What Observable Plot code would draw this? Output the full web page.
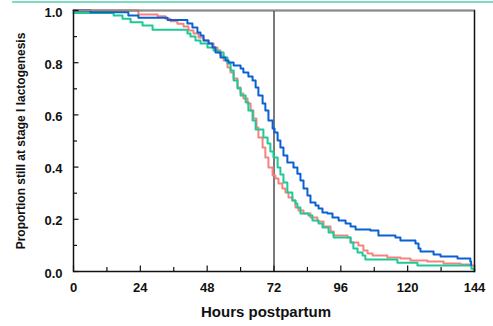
<!DOCTYPE html>
<html>
<head>
<meta charset="utf-8">
<script src="https://cdn.jsdelivr.net/npm/d3@7"></script>
<script src="https://cdn.jsdelivr.net/npm/@observablehq/plot@0.6"></script>
<style>
  html, body { margin: 0; padding: 0; background: #fff; }
  #wrap { position: relative; width: 493px; height: 326px; }
  #topline { position: absolute; top: 1px; left: 12px; right: 0; height: 2px; background: #7fdcc4; }
</style>
</head>
<body>
<div id="wrap"><div id="topline"></div></div>
<script>
// Series: blue
const hoursBlue = [0, 6.1, 19.7, 23.3, 33.8, 40.9, 42.7, 44.5, 45.6, 46.7, 48.5, 49.9, 51.0, 52.8, 54.6, 55.7, 57.5, 60.0, 61.0, 62.8, 64.3, 65.4, 66.4, 67.9, 68.9, 70.0, 71.5, 72.2, 73.3, 74.3, 75.4, 76.8, 79.0, 80.4, 81.5, 82.6, 84.0, 85.1, 86.9, 88.0, 89.4, 91.2, 93.0, 95.2, 97.7, 99.5, 101.3, 106.6, 109.5, 115.6, 117.4, 122.8, 123.9, 124.6, 129.3, 131.8, 137.9, 142.5, 142.8];
const propBlue = [1.0, 0.993, 0.981, 0.972, 0.964, 0.950, 0.935, 0.916, 0.904, 0.885, 0.874, 0.858, 0.839, 0.820, 0.808, 0.801, 0.789, 0.778, 0.762, 0.747, 0.732, 0.705, 0.674, 0.644, 0.617, 0.579, 0.548, 0.533, 0.502, 0.475, 0.444, 0.418, 0.398, 0.375, 0.349, 0.318, 0.291, 0.264, 0.253, 0.241, 0.226, 0.222, 0.207, 0.195, 0.184, 0.172, 0.161, 0.157, 0.138, 0.130, 0.119, 0.107, 0.088, 0.077, 0.065, 0.057, 0.050, 0.038, 0.025];
// Series: red
const hoursRed = [0, 23.3, 30.2, 33.0, 34.8, 37.3, 39.5, 41.3, 43.1, 44.9, 46.7, 48.5, 50.3, 51.7, 52.8, 53.9, 55.3, 56.4, 57.5, 58.9, 60.0, 61.0, 62.5, 63.6, 64.6, 65.7, 66.4, 67.9, 68.9, 70.0, 71.5, 72.5, 73.6, 75.0, 76.1, 77.2, 78.6, 79.7, 80.8, 82.6, 85.1, 87.6, 89.8, 92.3, 93.4, 98.4, 99.5, 102.3, 104.1, 105.6, 107.4, 112.7, 117.4, 121.0, 127.1, 132.9, 139.0, 142.5, 144];
const propRed = [1.0, 0.985, 0.978, 0.968, 0.959, 0.949, 0.939, 0.923, 0.912, 0.897, 0.885, 0.874, 0.858, 0.847, 0.828, 0.808, 0.782, 0.762, 0.739, 0.705, 0.682, 0.663, 0.644, 0.617, 0.586, 0.552, 0.513, 0.475, 0.437, 0.398, 0.368, 0.356, 0.337, 0.318, 0.303, 0.284, 0.272, 0.245, 0.234, 0.222, 0.207, 0.192, 0.172, 0.153, 0.138, 0.130, 0.111, 0.100, 0.080, 0.069, 0.061, 0.054, 0.050, 0.042, 0.038, 0.031, 0.027, 0.023, 0.020];
// Series: green
const hoursGreen = [0, 14.4, 17.6, 20.5, 24.8, 28.4, 40.9, 42.0, 43.8, 45.6, 48.1, 50.3, 52.1, 53.9, 55.3, 56.4, 57.5, 58.9, 60.0, 61.8, 62.8, 64.3, 65.4, 68.2, 69.7, 70.7, 71.8, 73.3, 74.3, 75.4, 76.8, 78.6, 79.7, 80.4, 81.5, 84.4, 85.8, 88.0, 89.4, 91.6, 93.4, 99.5, 100.5, 102.0, 103.8, 104.8, 116.3, 123.5, 142.9, 144];
const propGreen = [0.990, 0.981, 0.968, 0.955, 0.943, 0.926, 0.912, 0.900, 0.885, 0.874, 0.858, 0.847, 0.839, 0.820, 0.797, 0.770, 0.732, 0.701, 0.674, 0.648, 0.617, 0.579, 0.544, 0.513, 0.490, 0.460, 0.437, 0.398, 0.372, 0.341, 0.303, 0.272, 0.261, 0.245, 0.222, 0.215, 0.195, 0.184, 0.169, 0.149, 0.130, 0.111, 0.088, 0.073, 0.061, 0.046, 0.034, 0.023, 0.011, 0.0];

// Ticks and labels
const xMajor = [0, 24, 48, 72, 96, 120, 144];
const xMinor = [12, 36, 60, 84, 108, 132];
const yMajor = [0, 0.2, 0.4, 0.6, 0.8, 1.0];
const yMinor = [0.1, 0.3, 0.5, 0.7, 0.9];
const refLine = [72];
const xLabel = ["Hours postpartum"];
const yLabel = ["Proportion still at stage I lactogenesis"];

const zip = (xs, ys) => xs.map((x, i) => ({x, y: ys[i]}));
const blue = zip(hoursBlue, propBlue);
const red = zip(hoursRed, propRed);
const green = zip(hoursGreen, propGreen);

const W = 493, H = 326, mL = 73, mR = 19, mT = 10, mB = 55;
const pw = W - mL - mR, ph = H - mT - mB;

const chart = Plot.plot({
  width: W, height: H,
  marginLeft: mL, marginRight: mR, marginTop: mT, marginBottom: mB,
  style: {fontFamily: "'Liberation Sans', Arial, sans-serif", background: "transparent", overflow: "visible"},
  x: {domain: [0, 144]},
  y: {domain: [0, 1]},
  marks: [
    Plot.ruleX(refLine, {x: d => d, stroke: "#7a7a7a", strokeWidth: 2}),
    Plot.line(red, {x: "x", y: "y", curve: "step-after", stroke: "#f5837e", strokeWidth: 2}),
    Plot.line(green, {x: "x", y: "y", curve: "step-after", stroke: "#1ec997", strokeWidth: 2}),
    Plot.line(blue, {x: "x", y: "y", curve: "step-after", stroke: "#0b60d2", strokeWidth: 2}),
    Plot.frame({stroke: "#111", strokeWidth: 1.5}),
    Plot.ruleY([1], {y: d => d, stroke: "#8a8a8a", strokeWidth: 1.5}),
    Plot.tickY(yMajor, {y: d => d, insetRight: pw - 5.5, stroke: "#111", strokeWidth: 1.2}),
    Plot.tickY(yMinor, {y: d => d, insetRight: pw - 4, stroke: "#111", strokeWidth: 1.2}),
    Plot.tickX(xMajor, {x: d => d, insetTop: ph - 5.5, stroke: "#111", strokeWidth: 1.2}),
    Plot.tickX(xMinor, {x: d => d, insetTop: ph - 4, stroke: "#111", strokeWidth: 1.2}),
    Plot.axisX(xMajor, {tickSize: 0, tickPadding: 11, fontSize: 13, fontWeight: "bold", fill: "#111", label: null}),
    Plot.axisY(yMajor, {tickSize: 0, tickPadding: 11, dy: 2, fontSize: 13, fontWeight: "bold", fill: "#111", tickFormat: d => d.toFixed(1), label: null}),
    Plot.text(xLabel, {text: d => d, frameAnchor: "bottom", dy: 45, dx: -8, lineAnchor: "bottom", fontSize: 15, fontWeight: "bold", fill: "#111"}),
    Plot.text(yLabel, {text: d => d, frameAnchor: "left", rotate: -90, dx: -49, textAnchor: "middle", lineAnchor: "bottom", fontSize: 12, fontWeight: "bold", fill: "#111"})
  ]
});
document.getElementById("wrap").appendChild(chart);
chart.style.position = "absolute";
chart.style.left = "0";
chart.style.top = "0";
</script>
</body>
</html>
